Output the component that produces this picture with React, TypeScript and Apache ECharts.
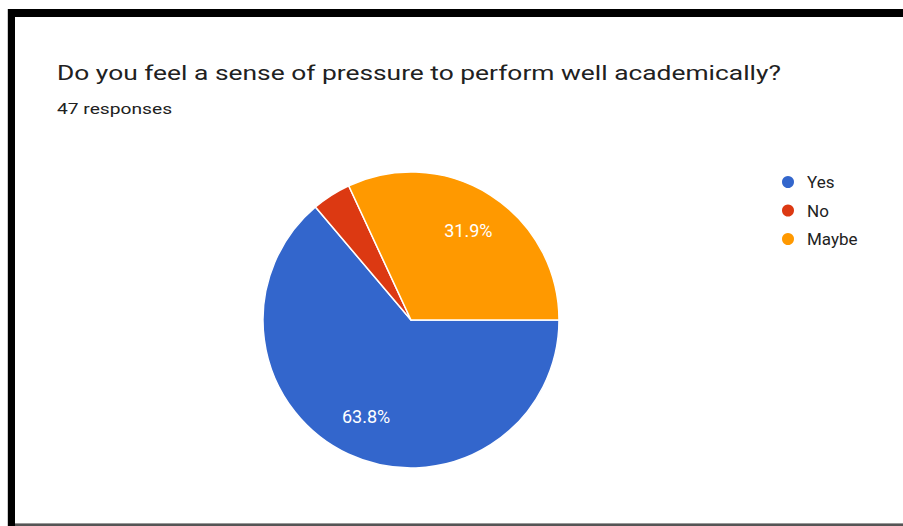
import React, { useEffect, useRef } from "react";
import * as echarts from "echarts";

const categories = ["Yes", "No", "Maybe"];
const counts = [30, 2, 15];
const colors = ["#3366cc", "#dc3912", "#ff9900"];
const titleText = "Do you feel a sense of pressure to perform well academically?";
const subtitleText = "47 responses";

export default function App() {
  const ref = useRef<HTMLDivElement>(null);
  useEffect(() => {
    if (!ref.current) return;
    const chart = echarts.init(ref.current, null, { renderer: "svg" });
    const total = counts.reduce((a, b) => a + b, 0);
    const data = categories.map((name, i) => ({
      name,
      value: counts[i],
      itemStyle: { color: colors[i] },
    }));
    const center = [411, 320];
    const R = 148;
    chart.setOption({
      animation: false,
      backgroundColor: "#ffffff",
      legend: {
        orient: "vertical",
        left: 775,
        top: 168.5,
        icon: "circle",
        itemWidth: 14,
        itemHeight: 14,
        itemGap: 11.5,
        data: categories,
        textStyle: {
          fontFamily: "Roboto",
          fontSize: 17,
          color: "#222222",
          padding: [0, 0, 0, 7],
        },
      },
      graphic: [
        { type: "rect", shape: { x: 8, y: 9, width: 895, height: 8 }, style: { fill: "#000000" } },
        { type: "rect", shape: { x: 8, y: 9, width: 7, height: 517 }, style: { fill: "#000000" } },
        { type: "rect", shape: { x: 7, y: 9, width: 1, height: 517 }, style: { fill: "#cccccc" } },
        { type: "rect", shape: { x: 15, y: 523, width: 888, height: 1 }, style: { fill: "#999999" } },
        { type: "rect", shape: { x: 15, y: 524, width: 888, height: 2 }, style: { fill: "#555555" } },
        {
          type: "text",
          x: 57,
          y: 73,
          scaleX: 1.256,
          style: {
            text: titleText,
            fontFamily: "Roboto",
            fontSize: 21,
            fill: "#212121",
            verticalAlign: "middle",
            align: "left",
          },
        },
        {
          type: "text",
          x: 57,
          y: 109,
          scaleX: 1.28,
          style: {
            text: subtitleText,
            fontFamily: "Roboto",
            fontSize: 15,
            fill: "#212121",
            verticalAlign: "middle",
            align: "left",
          },
        },
      ],
      series: [
        {
          type: "pie",
          center,
          radius: [0, R],
          startAngle: 0,
          clockwise: true,
          data,
          label: { show: false },
          labelLine: { show: false },
          itemStyle: { borderColor: "#ffffff", borderWidth: 1.5 },
          emphasis: { disabled: true },
        },
        {
          type: "pie",
          center,
          radius: [R * 0.4, R],
          startAngle: 0,
          clockwise: true,
          silent: true,
          data: data.map((d) => ({ ...d, itemStyle: { color: "rgba(0,0,0,0)" } })),
          itemStyle: { color: "rgba(0,0,0,0)", borderWidth: 0 },
          label: {
            show: true,
            position: "inside",
            color: "#ffffff",
            fontFamily: "Roboto",
            fontSize: 18,
            formatter: (p: any) =>
              p.value / total < 0.05 ? "" : ((p.value / total) * 100).toFixed(1) + "%",
          },
          labelLine: { show: false },
          emphasis: { disabled: true },
        },
      ],
    });
    return () => chart.dispose();
  }, []);
  return (
    <div
      ref={ref}
      style={{ position: "fixed", left: 0, top: 0, width: 903, height: 526 }}
    />
  );
}
